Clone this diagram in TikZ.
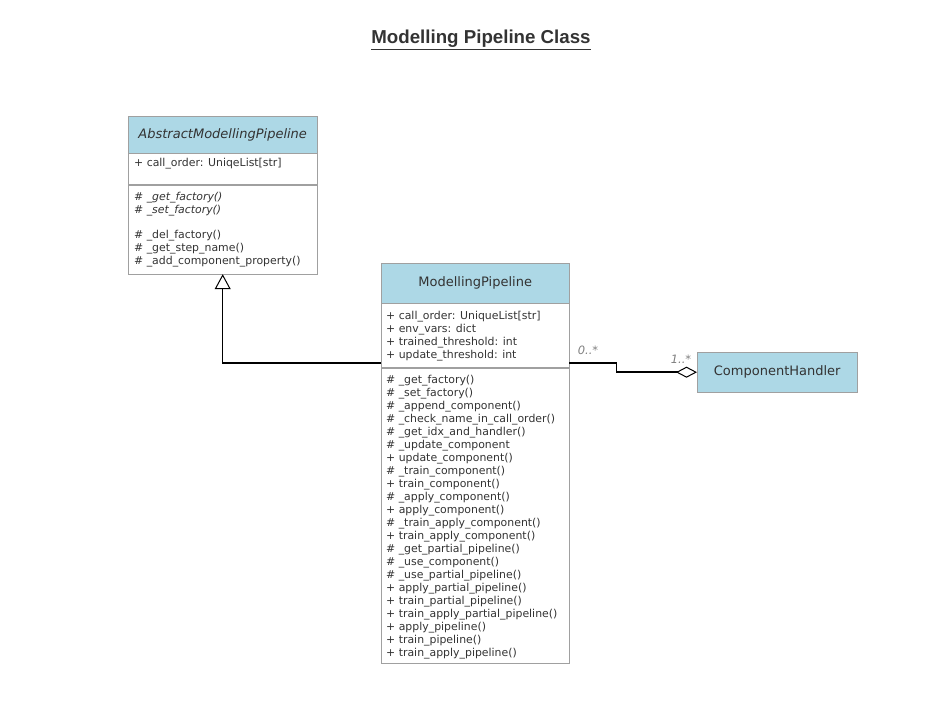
\documentclass[tikz,border=0pt]{standalone}
\usepackage{fontspec}
\setmainfont{DejaVu Sans}
\newfontfamily\titlefont{Liberation Sans}
\usetikzlibrary{arrows.meta, calc, positioning}
\definecolor{hdrblue}{HTML}{ADD8E6}
\definecolor{umlgray}{HTML}{A0A0A0}
\definecolor{umltext}{HTML}{333333}
\tikzset{
	classhead/.style={draw=umlgray, fill=hdrblue, anchor=north west, inner sep=0pt,
		font=\fontsize{13}{15}\selectfont, text=umltext},
	compart/.style={draw=umlgray, fill=white, anchor=north west, inner sep=0pt},
	members/.style={anchor=north west, align=left, inner sep=0pt,
		font=\fontsize{10.9}{13}\selectfont, text=umltext},
	mult/.style={font=\fontsize{11.5}{13}\selectfont\itshape, text=gray},
	link/.style={line width=1.5pt, line join=miter}
}

\begin{document}
\begin{tikzpicture}[x=1pt, y=-1pt]
\useasboundingbox (0,0) rectangle (952,715);
% title
\node[font=\titlefont\bfseries\fontsize{18.7}{20}\selectfont, text=umltext] (title) at (481,40) {\underline{Modelling Pipeline Class}};

%========================
% AbstractModellingPipeline
%========================
\node[classhead, minimum width=189pt, minimum height=37pt] (amphead) at (128,116) {\itshape AbstractModellingPipeline};
\node[compart, minimum width=189pt, minimum height=31pt] (ampattr) at (amphead.south west) {};
\node[compart, minimum width=189pt, minimum height=89pt] (ampmeth) at (ampattr.south west) {};
\node[members] (ampattrtext) at ([shift={(6,5)}]ampattr.north west) {+ call\_order: UniqeList[str]};
\node[members] (ampmethtext) at ([shift={(6,7.5)}]ampmeth.north west) {
	\itshape \# \_get\_factory()\\
	\itshape \# \_set\_factory()\\[12pt]
	\# \_del\_factory()\\
	\# \_get\_step\_name()\\
	\# \_add\_component\_property()};

%========================
% ModellingPipeline
%========================
\node[classhead, minimum width=188pt, minimum height=40pt] (mphead) at (381,263) {ModellingPipeline};
\node[compart, minimum width=188pt, minimum height=64pt] (mpattr) at (mphead.south west) {};
\node[compart, minimum width=188pt, minimum height=295pt] (mpmeth) at (mpattr.south west) {};
\node[members] (mpattrtext) at ([shift={(5,7.5)}]mpattr.north west) {
	+ call\_order: UniqueList[str]\\
	+ env\_vars: dict\\
	+ trained\_threshold: int\\
	+ update\_threshold: int};
\node[members] (mpmethtext) at ([shift={(5,7.5)}]mpmeth.north west) {
	\# \_get\_factory()\\
	\# \_set\_factory()\\
	\# \_append\_component()\\
	\# \_check\_name\_in\_call\_order()\\
	\# \_get\_idx\_and\_handler()\\
	\# \_update\_component\\
	+ update\_component()\\
	\# \_train\_component()\\
	+ train\_component()\\
	\# \_apply\_component()\\
	+ apply\_component()\\
	\# \_train\_apply\_component()\\
	+ train\_apply\_component()\\
	\# \_get\_partial\_pipeline()\\
	\# \_use\_component()\\
	\# \_use\_partial\_pipeline()\\
	+ apply\_partial\_pipeline()\\
	+ train\_partial\_pipeline()\\
	+ train\_apply\_partial\_pipeline()\\
	+ apply\_pipeline()\\
	+ train\_pipeline()\\
	+ train\_apply\_pipeline()};

%========================
% ComponentHandler
%========================
\node[classhead, minimum width=160pt, minimum height=40pt] (handler) at (697,352) {ComponentHandler};

% inheritance
\draw[link, -{Triangle[open, line width=1pt, length=15pt, width=16pt]}]
	($(mpattr.south west)+(0,-5)$) -| (ampmeth.south);
% aggregation
\draw[link, -{Diamond[open, line width=1pt, length=21pt, width=11pt]}]
	($(mpattr.south east)+(0,-5)$) -- ++(47,0) |- (handler.west);
\node[mult] (multmp) at (588,350) {0..*};
\node[mult] (multch) at (681,359) {1..*};
\end{tikzpicture}
\end{document}
